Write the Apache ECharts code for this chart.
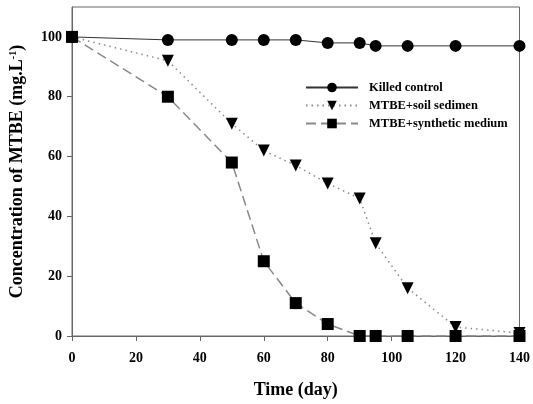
<!DOCTYPE html>
<html><head><meta charset="utf-8">
<script src="https://cdn.jsdelivr.net/npm/echarts@6/dist/echarts.min.js"></script>
<style>html,body{margin:0;padding:0;background:#fff}#c{width:533px;height:404px}</style>
</head><body><div id="c"></div>
<script>
const days = [0, 30, 50, 60, 70, 80, 90, 95, 105, 120, 140];
const killedControl = [100, 99, 99, 99, 99, 98, 98, 97, 97, 97, 97];
const soilSediment = [100, 92, 71, 62, 57, 51, 46, 31, 16, 3, 1];
const syntheticMedium = [100, 80, 58, 25, 11, 4, 0, 0, 0, 0, 0];
const xTicks = [0, 20, 40, 60, 80, 100, 120, 140];
const yTicks = [0, 20, 40, 60, 80, 100];
const seriesNames = ['Killed control', 'MTBE+soil sedimen', 'MTBE+synthetic medium'];

const FONT = '"Liberation Serif", "Times New Roman", serif';
const pair = (ys) => days.map((d, i) => [d, ys[i]]);
const chart = echarts.init(document.getElementById('c'));
chart.setOption({
  animation: false,
  backgroundColor: '#fff',
  grid: { left: 72, right: 11, top: 7, bottom: 66, show: true, borderColor: '#666', borderWidth: 1 },
  legend: {
    orient: 'vertical', left: 300, top: 76, itemWidth: 52, itemHeight: 12, itemGap: 5,
    textStyle: { fontFamily: FONT, fontWeight: 'bold', fontSize: 12.5, color: '#000', padding: [0, 0, 0, 6] },
    data: seriesNames
  },
  xAxis: {
    type: 'value', min: 0, max: 140, interval: 20,
    name: 'Time (day)', nameLocation: 'middle', nameGap: 45,
    nameTextStyle: { fontFamily: FONT, fontWeight: 'bold', fontSize: 18, color: '#000' },
    axisLine: { lineStyle: { color: '#666' } },
    axisTick: { length: 5, lineStyle: { color: '#666' } },
    axisLabel: { fontFamily: FONT, fontWeight: 'bold', fontSize: 14, color: '#000', margin: 15, customValues: xTicks },
    splitLine: { show: false }
  },
  yAxis: {
    type: 'value', min: 0, max: 110, interval: 20,
    name: '{a|Concentration of MTBE (mg.L}{s|-1}{a|)}', nameLocation: 'middle', nameGap: 45,
    nameTextStyle: { rich: {
      a: { fontFamily: FONT, fontWeight: 'bold', fontSize: 18, color: '#000' },
      s: { fontFamily: FONT, fontWeight: 'bold', fontSize: 10, color: '#000', verticalAlign: 'top', padding: [0, 0, 9, 0] }
    } },
    axisLine: { show: true, lineStyle: { color: '#666' } },
    axisTick: { show: true, length: 5, lineStyle: { color: '#666' }, customValues: yTicks },
    axisLabel: { fontFamily: FONT, fontWeight: 'bold', fontSize: 14, color: '#000', margin: 10, customValues: yTicks },
    splitLine: { show: false }
  },
  series: [
    { name: seriesNames[0], type: 'line', data: pair(killedControl), symbol: 'circle', symbolSize: 12,
      itemStyle: { color: '#000' }, lineStyle: { color: '#333', width: 1, type: 'solid' }, z: 3 },
    { name: seriesNames[1], type: 'line', data: pair(soilSediment), symbol: 'triangle', symbolRotate: 180, symbolSize: 12,
      itemStyle: { color: '#000' }, lineStyle: { color: '#888', width: 1.5, type: [1.5, 4] }, z: 2 },
    { name: seriesNames[2], type: 'line', data: pair(syntheticMedium), symbol: 'rect', symbolSize: 12,
      itemStyle: { color: '#000' }, lineStyle: { color: '#888', width: 1.5, type: [10, 5] }, z: 2 }
  ]
});
</script></body></html>
